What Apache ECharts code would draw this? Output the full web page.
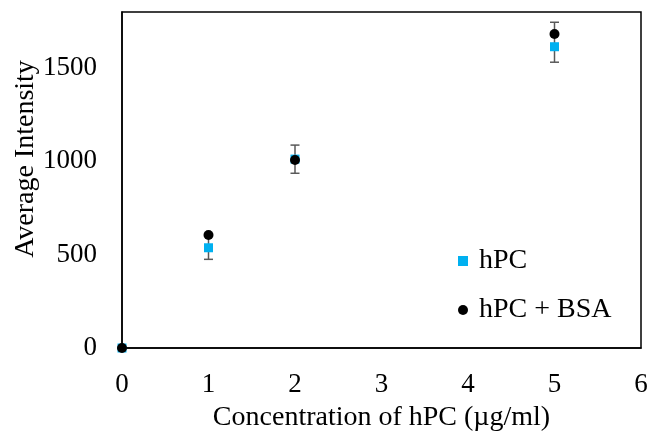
<!DOCTYPE html>
<html>
<head>
<meta charset="utf-8">
<script src="https://cdn.jsdelivr.net/npm/echarts@6/dist/echarts.min.js"></script>
<style>
html,body{margin:0;padding:0;background:#fff;}
#chart{width:650px;height:434px;}
</style>
</head>
<body>
<div id="chart"></div>
<script>
// Data
var concentrations = [0, 1, 2, 5];
var hPC = [0, 537, 1012, 1614];
var hPC_BSA = [0, 605, 1007, 1682];
var errLow = [0, 475, 936, 1531];
var errHigh = [0, 600, 1087, 1745];
var xTicks = [0, 1, 2, 3, 4, 5, 6];
var yTicks = [0, 500, 1000, 1500];

var font = '"Liberation Serif", "Times New Roman", serif';

var chart = echarts.init(document.getElementById('chart'));

var errData = concentrations.map(function (c, i) { return [c, errLow[i], errHigh[i]]; });

chart.setOption({
  animation: false,
  grid: {
    left: 122, right: 9, top: 12, bottom: 86, containLabel: false, outerBoundsMode: 'none',
    show: true, borderColor: '#000', borderWidth: 1.5, backgroundColor: 'transparent'
  },
  xAxis: {
    type: 'value', min: 0, max: 6, interval: 1,
    name: 'Concentration of hPC (\u00b5g/ml)', nameLocation: 'middle', nameGap: 56, nameMoveOverlap: false,
    nameTextStyle: { fontFamily: font, fontSize: 28, color: '#000' },
    axisLine: { show: true, onZero: false, lineStyle: { color: '#000', width: 1.5 } },
    axisTick: { show: false },
    splitLine: { show: false },
    axisLabel: { fontFamily: font, fontSize: 27, color: '#000', margin: 23 }
  },
  yAxis: {
    type: 'value', min: 0, max: 1800, interval: 500,
    name: 'Average Intensity', nameLocation: 'middle', nameGap: 82, nameMoveOverlap: false,
    nameTextStyle: { fontFamily: font, fontSize: 28, color: '#000', padding: [0, 0, 0, 42] },
    axisLine: { show: true, onZero: false, lineStyle: { color: '#000', width: 1.5 } },
    axisTick: { show: false },
    splitLine: { show: false },
    axisLabel: {
      fontFamily: font, fontSize: 27, color: '#000', margin: 25, showMaxLabel: false,
      formatter: function (v) { return yTicks.indexOf(v) >= 0 ? String(v) : ''; }
    }
  },
  legend: {
    orient: 'vertical', left: 458, top: 247, itemGap: 21, padding: 0,
    itemWidth: 10, itemHeight: 10,
    textStyle: { fontFamily: font, fontSize: 28, color: '#000', padding: [0, 0, 0, 6] },
    data: [
      { name: 'hPC', icon: 'rect', itemStyle: { opacity: 1 } },
      { name: 'hPC + BSA', icon: 'circle', itemStyle: { opacity: 1 } }
    ]
  },
  series: [
    {
      name: 'err', type: 'custom', z: 1, clip: false,
      data: errData,
      renderItem: function (params, api) {
        var x = api.value(0);
        var lo = api.coord([x, api.value(1)]);
        var hi = api.coord([x, api.value(2)]);
        var w = 4.5;
        var st = { stroke: '#595959', lineWidth: 1.5 };
        return {
          type: 'group',
          children: [
            { type: 'line', shape: { x1: lo[0], y1: lo[1], x2: hi[0], y2: hi[1] }, style: st },
            { type: 'line', shape: { x1: lo[0] - w, y1: lo[1], x2: lo[0] + w, y2: lo[1] }, style: st },
            { type: 'line', shape: { x1: hi[0] - w, y1: hi[1], x2: hi[0] + w, y2: hi[1] }, style: st }
          ]
        };
      }
    },
    {
      name: 'hPC', type: 'scatter', symbol: 'rect', symbolSize: 9, z: 3, clip: false,
      itemStyle: { color: '#00B0F0', opacity: 1 },
      data: concentrations.map(function (c, i) { return [c, hPC[i]]; })
    },
    {
      name: 'hPC + BSA', type: 'scatter', symbol: 'circle', symbolSize: 10, z: 4, clip: false,
      itemStyle: { color: '#000', opacity: 1 },
      data: concentrations.map(function (c, i) { return [c, hPC_BSA[i]]; })
    }
  ]
});
</script>
</body>
</html>
